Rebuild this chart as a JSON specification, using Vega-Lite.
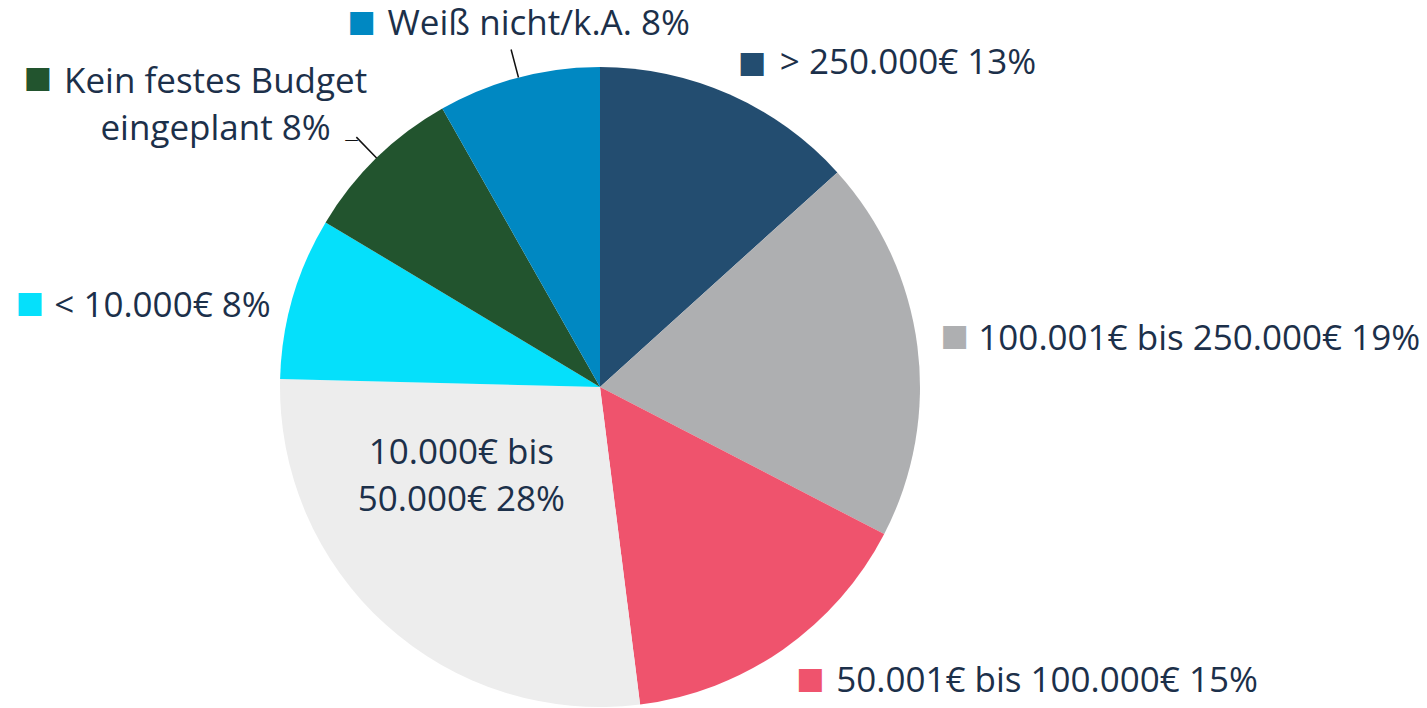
{
  "$schema": "https://vega.github.io/schema/vega-lite/v6.json",
  "width": 1200,
  "height": 640,
  "autosize": "none",
  "padding": {"left": 0, "top": 67, "right": 227, "bottom": 1},
  "background": "white",
  "config": {"view": {"stroke": null}, "text": {"font": "Open Sans", "fontSize": 35, "color": "#1c304a"}},
  "data": {"values": [
    {"ord": 1, "cat": "> 250.000€", "label": "> 250.000€ 13%", "value": 13.3},
    {"ord": 2, "cat": "100.001€ bis 250.000€", "label": "100.001€ bis 250.000€ 19%", "value": 19.3},
    {"ord": 3, "cat": "50.001€ bis 100.000€", "label": "50.001€ bis 100.000€ 15%", "value": 15.4},
    {"ord": 4, "cat": "10.000€ bis 50.000€", "label": "10.000€ bis|50.000€ 28%", "value": 27.4},
    {"ord": 5, "cat": "< 10.000€", "label": "< 10.000€ 8%", "value": 8.2},
    {"ord": 6, "cat": "Kein festes Budget eingeplant", "label": "Kein festes Budget|eingeplant 8%", "value": 8.2},
    {"ord": 7, "cat": "Weiß nicht/k.A.", "label": "Weiß nicht/k.A. 8%", "value": 8.2}
  ]},
  "encoding": {
    "theta": {"field": "value", "type": "quantitative", "stack": true},
    "order": {"field": "ord", "type": "quantitative"}
  },
  "resolve": {"scale": {"color": "shared"}},
  "layer": [
    {
      "mark": {"type": "arc", "outerRadius": 320},
      "encoding": {
        "color": {"field": "cat", "type": "nominal", "legend": null, "sort": {"field": "ord"},
          "scale": {"domain": ["> 250.000€", "100.001€ bis 250.000€", "50.001€ bis 100.000€", "10.000€ bis 50.000€", "< 10.000€", "Kein festes Budget eingeplant", "Weiß nicht/k.A."],
                    "range": ["#234d70", "#aeafb1", "#ef536d", "#ededed", "#05e0fb", "#22542e", "#0088c2"]}}
      }
    },
    {
      "mark": {"type": "arc", "innerRadius": 320, "outerRadius": 349, "padAngle": 3, "fill": null, "stroke": "#111111", "strokeWidth": 1.5},
      "encoding": {
        "detail": {"field": "cat"},
        "strokeOpacity": {"condition": {"test": "datum.ord == 6 || datum.ord == 7", "value": 1}, "value": 0}
      }
    },
    {
      "mark": {"type": "text", "radius": 320, "font": "DejaVu Sans", "fontSize": 14, "align": "center", "baseline": "alphabetic", "dx": -25, "dy": -14, "color": "#111111"},
      "encoding": {"detail": {"field": "cat"}, "text": {"condition": {"test": "datum.ord == 6", "value": "—"}, "value": ""}}
    },
    {
      "mark": {"type": "text", "radius": 320, "align": "left", "baseline": "middle", "dx": 50, "dy": -32},
      "encoding": {"detail": {"field": "cat"}, "text": {"condition": {"test": "datum.ord == 1", "field": "label"}, "value": ""}}
    },
    {
      "mark": {"type": "text", "radius": 320, "align": "left", "baseline": "middle", "dx": 61, "dy": -7},
      "encoding": {"detail": {"field": "cat"}, "text": {"condition": {"test": "datum.ord == 2", "field": "label"}, "value": ""}}
    },
    {
      "mark": {"type": "text", "radius": 320, "align": "left", "baseline": "middle", "dx": 53, "dy": 32},
      "encoding": {"detail": {"field": "cat"}, "text": {"condition": {"test": "datum.ord == 3", "field": "label"}, "value": ""}}
    },
    {
      "mark": {"type": "text", "radius": 320, "align": "center", "baseline": "middle", "dx": 76, "dy": -171, "lineBreak": "|", "lineHeight": 47},
      "encoding": {"detail": {"field": "cat"}, "text": {"condition": {"test": "datum.ord == 4", "field": "label"}, "value": ""}}
    },
    {
      "mark": {"type": "text", "radius": 320, "align": "right", "baseline": "middle", "dx": -22, "dy": 8},
      "encoding": {"detail": {"field": "cat"}, "text": {"condition": {"test": "datum.ord == 5", "field": "label"}, "value": ""}}
    },
    {
      "mark": {"type": "text", "radius": 320, "align": "center", "baseline": "middle", "dx": -161, "dy": -76, "lineBreak": "|", "lineHeight": 47},
      "encoding": {"detail": {"field": "cat"}, "text": {"condition": {"test": "datum.ord == 6", "field": "label"}, "value": ""}}
    },
    {
      "mark": {"type": "text", "radius": 320, "align": "left", "baseline": "middle", "dx": -131, "dy": -54},
      "encoding": {"detail": {"field": "cat"}, "text": {"condition": {"test": "datum.ord == 7", "field": "label"}, "value": ""}}
    },
    {
      "mark": {"type": "text", "radius": 320, "font": "DejaVu Sans", "fontSize": 30, "align": "center", "baseline": "middle", "dx": 22, "dy": -32},
      "encoding": {"detail": {"field": "cat"}, "text": {"condition": {"test": "datum.ord == 1", "value": "■"}, "value": ""},
        "color": {"field": "cat", "type": "nominal", "legend": null}}
    },
    {
      "mark": {"type": "text", "radius": 320, "font": "DejaVu Sans", "fontSize": 30, "align": "center", "baseline": "middle", "dx": 37, "dy": -10},
      "encoding": {"detail": {"field": "cat"}, "text": {"condition": {"test": "datum.ord == 2", "value": "■"}, "value": ""},
        "color": {"field": "cat", "type": "nominal", "legend": null}}
    },
    {
      "mark": {"type": "text", "radius": 320, "font": "DejaVu Sans", "fontSize": 30, "align": "center", "baseline": "middle", "dx": 27, "dy": 30},
      "encoding": {"detail": {"field": "cat"}, "text": {"condition": {"test": "datum.ord == 3", "value": "■"}, "value": ""},
        "color": {"field": "cat", "type": "nominal", "legend": null}}
    },
    {
      "mark": {"type": "text", "radius": 320, "font": "DejaVu Sans", "fontSize": 30, "align": "center", "baseline": "middle", "dx": -263, "dy": 5},
      "encoding": {"detail": {"field": "cat"}, "text": {"condition": {"test": "datum.ord == 5", "value": "■"}, "value": ""},
        "color": {"field": "cat", "type": "nominal", "legend": null}}
    },
    {
      "mark": {"type": "text", "radius": 320, "font": "DejaVu Sans", "fontSize": 30, "align": "center", "baseline": "middle", "dx": -339, "dy": -80},
      "encoding": {"detail": {"field": "cat"}, "text": {"condition": {"test": "datum.ord == 6", "value": "■"}, "value": ""},
        "color": {"field": "cat", "type": "nominal", "legend": null}}
    },
    {
      "mark": {"type": "text", "radius": 320, "font": "DejaVu Sans", "fontSize": 30, "align": "center", "baseline": "middle", "dx": -157, "dy": -56},
      "encoding": {"detail": {"field": "cat"}, "text": {"condition": {"test": "datum.ord == 7", "value": "■"}, "value": ""},
        "color": {"field": "cat", "type": "nominal", "legend": null}}
    }
  ]
}
